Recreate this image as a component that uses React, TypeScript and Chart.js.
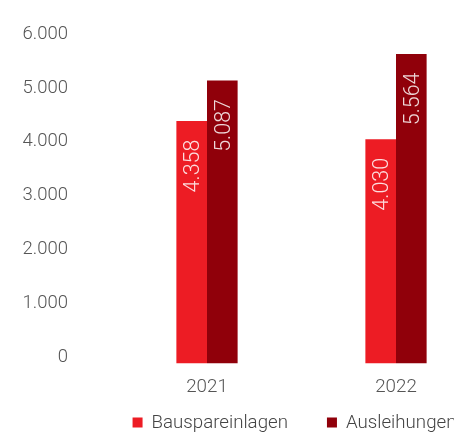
import React, { useEffect, useRef } from "react";
import { Chart, registerables } from "chart.js";

Chart.register(...registerables);

const categories = ["2021", "2022"];
const seriesNames = ["Bauspareinlagen", "Ausleihungen"];
const bauspareinlagen = [4358, 4030];
const ausleihungen = [5087, 5564];
const yTickValues = [0, 1000, 2000, 3000, 4000, 5000, 6000];
const seriesColors = ["#ED1C24", "#90000A"];

const fmt = (v: number) =>
  String(Math.round(v)).replace(/\B(?=(\d{3})+(?!\d))/g, ".");

const FONT = "Roboto";
const Y_FONT_SIZE = 18.5;
const X_FONT_SIZE = 18.8;
const LEGEND_FONT_SIZE = 18.7;
const LABEL_FONT_SIZE = 21.5;
const CANVAS_W = 589;

const barLabels = {
  id: "barLabels",
  afterDatasetsDraw(chart: any) {
    const ctx = chart.ctx;
    chart.data.datasets.forEach((ds: any, i: number) => {
      const meta = chart.getDatasetMeta(i);
      meta.data.forEach((bar: any, j: number) => {
        const v = ds.data[j] as number;
        ctx.save();
        ctx.translate(bar.x + 2, bar.y + 18.5);
        ctx.rotate(-Math.PI / 2);
        ctx.font = `300 ${LABEL_FONT_SIZE}px ${FONT}`;
        ctx.fillStyle = "rgba(255,255,255,0.85)";
        ctx.textAlign = "right";
        ctx.textBaseline = "middle";
        ctx.fillText(fmt(v), 0, 0);
        ctx.restore();
      });
    });
  },
};

const bottomLegend = {
  id: "bottomLegend",
  afterDraw(chart: any) {
    const ctx = chart.ctx;
    const box = 10;
    const boxGap = 9;
    const itemGap = 39;
    const y = 423;
    ctx.save();
    ctx.font = `300 ${LEGEND_FONT_SIZE}px ${FONT}`;
    const items = chart.data.datasets.map((ds: any) => ({
      text: ds.label as string,
      color: ds.backgroundColor as string,
      w: ctx.measureText(ds.label).width,
    }));
    const total =
      items.reduce((s: number, it: any) => s + box + boxGap + it.w, 0) +
      itemGap * (items.length - 1);
    let x = chart.width / 2 - total / 2;
    items.forEach((it: any) => {
      ctx.fillStyle = it.color;
      ctx.fillRect(x, y - box / 2 - 0.5, box, box);
      x += box + boxGap;
      ctx.fillStyle = "#444";
      ctx.textAlign = "left";
      ctx.textBaseline = "middle";
      ctx.fillText(it.text, x, y);
      x += it.w + itemGap;
    });
    ctx.restore();
  },
};

export default function App() {
  const ref = useRef<HTMLCanvasElement | null>(null);

  useEffect(() => {
    document.body.style.overflow = "hidden";
    const canvas = ref.current;
    if (!canvas) return;
    const chart = new Chart(canvas, {
      type: "bar",
      data: {
        labels: categories,
        datasets: [
          {
            label: seriesNames[0],
            data: bauspareinlagen,
            backgroundColor: seriesColors[0],
            borderWidth: 0,
            categoryPercentage: 0.324,
            barPercentage: 1,
            yAxisID: "y",
          },
          {
            label: seriesNames[1],
            data: ausleihungen,
            backgroundColor: seriesColors[1],
            borderWidth: 0,
            categoryPercentage: 0.324,
            barPercentage: 1,
            yAxisID: "y",
          },
        ],
      },
      options: {
        animation: false,
        responsive: false,
        layout: { padding: { top: 29.7, left: 0, right: 0, bottom: 20 } },
        plugins: {
          legend: { display: false },
          tooltip: { enabled: false },
        },
        scales: {
          x: {
            grid: { display: false, drawTicks: false },
            border: { display: false },
            ticks: {
              padding: 13,
              color: "#555",
              font: { family: FONT, size: X_FONT_SIZE, weight: 300 as any },
            },
          },
          y: { display: false, min: 0, max: 6000 },
          yTicks: {
            type: "linear",
            position: "left",
            min: -112,
            max: 6080,
            grid: { display: false, drawTicks: false },
            border: { display: false },
            afterBuildTicks: (a: any) => {
              a.ticks = yTickValues.map((v) => ({ value: v }));
            },
            ticks: {
              padding: 44.5,
              color: "#555",
              font: { family: FONT, size: Y_FONT_SIZE, weight: 300 as any },
              callback: (v: any) => fmt(Number(v)),
            },
            afterFit: (s: any) => {
              s.width = 112.5;
              s.paddingTop = 0;
              s.paddingBottom = 0;
            },
          },
          rightPad: {
            type: "linear",
            position: "right",
            grid: { display: false, drawTicks: false },
            border: { display: false },
            ticks: { display: false },
            afterFit: (s: any) => {
              s.width = CANVAS_W - 490.5;
              s.paddingTop = 0;
              s.paddingBottom = 0;
            },
          },
        } as any,
      },
      plugins: [barLabels, bottomLegend],
    });
    return () => chart.destroy();
  }, []);

  return (
    <div style={{ position: "fixed", left: 0, top: 0, width: CANVAS_W, height: 432 }}>
      <canvas ref={ref} width={CANVAS_W} height={432} style={{ display: "block" }} />
    </div>
  );
}
